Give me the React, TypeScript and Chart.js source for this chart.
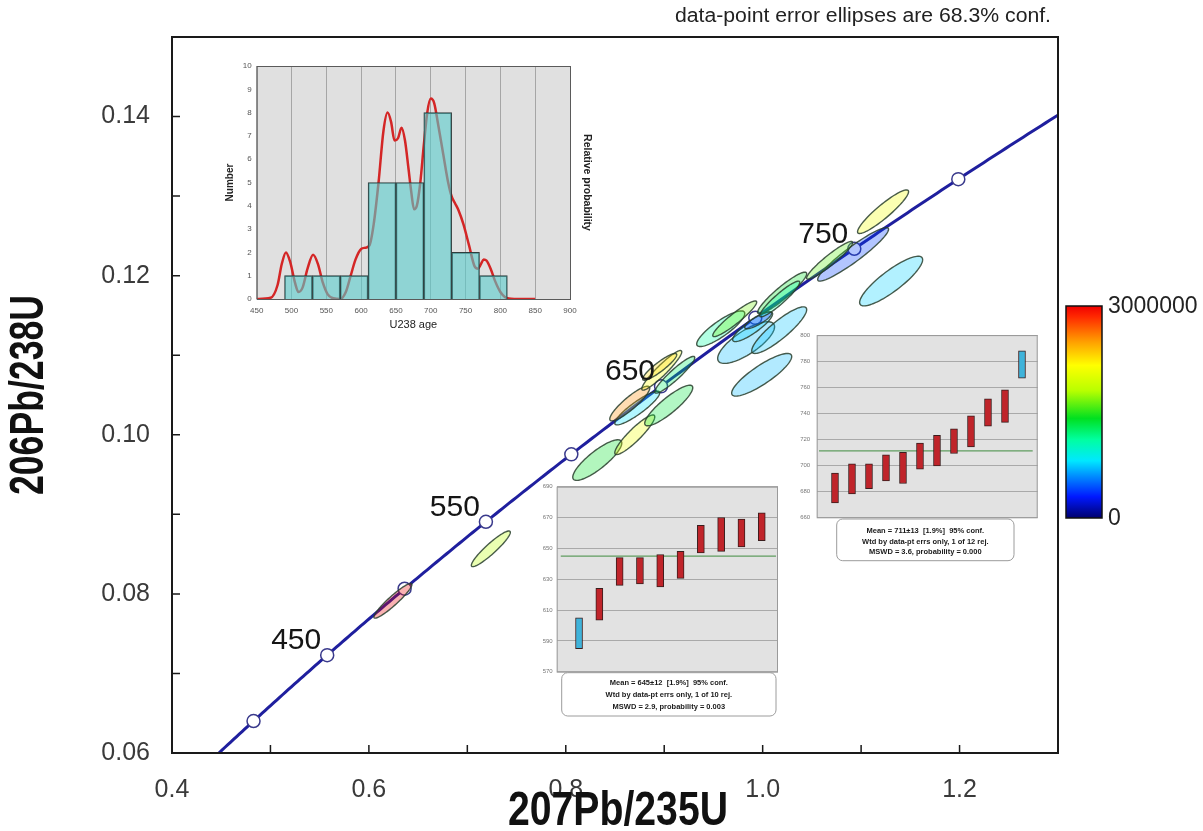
import React, { useEffect, useRef } from "react";
import { Chart, registerables } from "chart.js";

Chart.register(...registerables);

const FONT = '"Liberation Sans", Arial, Helvetica, sans-serif';
Chart.defaults.font.family = FONT;

// ---------------- Main concordia diagram ----------------
const LAMBDA_235 = 9.8485e-10; // 1/yr
const LAMBDA_238 = 1.55125e-10; // 1/yr
const CURVE_AGE_START_MA = 360;
const CURVE_AGE_END_MA = 860;
const MARKER_AGES_MA = [400, 450, 500, 550, 600, 650, 700, 750, 800];
const LABELED_AGES_MA = [450, 550, 650, 750];

const MAIN_X_TICKS = [0.4, 0.5, 0.6, 0.7, 0.8, 0.9, 1.0, 1.1, 1.2, 1.3];
const MAIN_X_LABELED = [0.4, 0.6, 0.8, 1.0, 1.2];
const MAIN_Y_TICKS = [0.06, 0.07, 0.08, 0.09, 0.1, 0.11, 0.12, 0.13, 0.14, 0.15];
const MAIN_Y_LABELED = [0.06, 0.08, 0.1, 0.12, 0.14];

// error ellipses (207Pb/235U, 206Pb/238U, 1-sigma x, 1-sigma y, rho, U colour value)
const ELL_X = [0.6244, 0.7239, 0.832, 0.8701, 0.9046, 0.8726, 0.865, 0.8975, 0.8954, 0.9107, 0.9574, 0.9832, 0.999, 1.0168, 0.9716, 0.9898, 0.9954, 1.0198, 1.0173, 1.1305, 1.0919, 1.068, 1.1223];
const ELL_Y = [0.07913, 0.08567, 0.09682, 0.1, 0.10368, 0.10336, 0.10393, 0.1081, 0.10854, 0.10754, 0.11333, 0.11159, 0.10754, 0.11315, 0.11458, 0.11358, 0.11439, 0.11782, 0.11707, 0.11932, 0.12268, 0.12193, 0.12804];
const ELL_SX = [0.0193, 0.0198, 0.0249, 0.0203, 0.0244, 0.0228, 0.0203, 0.0203, 0.0173, 0.0203, 0.0244, 0.0289, 0.0305, 0.0279, 0.0223, 0.0203, 0.0137, 0.0249, 0.0203, 0.032, 0.036, 0.0234, 0.0259];
const ELL_SY = [0.00218, 0.00224, 0.00255, 0.00249, 0.00255, 0.00212, 0.00218, 0.00249, 0.00168, 0.00231, 0.00224, 0.00262, 0.00268, 0.00293, 0.00224, 0.00187, 0.00106, 0.00262, 0.00224, 0.00312, 0.00336, 0.00237, 0.00274];
const ELL_RHO = [0.937, 0.926, 0.84, 0.907, 0.877, 0.897, 0.89, 0.935, 0.905, 0.93, 0.854, 0.76, 0.857, 0.88, 0.933, 0.866, 0.83, 0.926, 0.93, 0.86, 0.937, 0.94, 0.92];
const ELL_U = [3000000, 1800000, 1400000, 2100000, 1350000, 800000, 2550000, 2150000, 2300000, 1250000, 1100000, 700000, 700000, 720000, 1650000, 750000, 350000, 1400000, 1100000, 750000, 400000, 1600000, 2100000];

const CBAR_MIN = 0;
const CBAR_MAX = 3000000;
const CMAP_POS = [0, 0.1, 0.2, 0.27, 0.37, 0.47, 0.6, 0.72, 0.83, 0.95, 1];
const CMAP_COL = ["#00006e", "#0018ff", "#0090ff", "#00e8ff", "#00ffa0", "#00e020", "#b8ff00", "#ffff00", "#ffa000", "#ff2800", "#f00000"];

// ---------------- Histogram inset ----------------
const HIST_BIN_CENTERS = [510, 550, 590, 630, 670, 710, 750, 790];
const HIST_COUNTS = [1, 1, 1, 5, 5, 8, 2, 1];
const PDF_AGES = [450, 470, 480, 486, 492, 498, 505, 510, 516, 523, 531, 538, 545, 552, 560, 570, 578, 585, 592, 600, 606, 612, 618, 625, 632, 638, 643, 648, 653, 658, 663, 668, 672, 676, 680, 685, 690, 695, 700, 705, 710, 718, 725, 730, 735, 740, 747, 755, 763, 768, 772, 776, 780, 786, 792, 800, 806, 812, 820, 850];
const PDF_VALUES = [0, 0.05, 0.6, 1.5, 2.0, 1.6, 0.7, 0.3, 0.5, 1.3, 1.9, 1.5, 0.7, 0.2, 0.03, 0, 0.3, 1.0, 1.7, 2.15, 2.2, 2.3, 3.2, 5.0, 7.2, 8.0, 7.6, 6.8, 6.9, 7.35, 6.8, 5.6, 4.6, 3.85, 4.0, 5.0, 6.6, 8.0, 8.6, 8.4, 7.6, 6.2, 5.0, 4.4, 4.1, 3.8, 3.2, 2.3, 1.4, 1.3, 1.5, 1.7, 1.65, 1.3, 0.8, 0.3, 0.1, 0.02, 0, 0];

// ---------------- Weighted mean insets ----------------
const WM1_LOW = [585, 603.5, 626, 627, 625, 630.5, 647, 648, 651, 655];
const WM1_HIGH = [605, 624, 644, 644, 646, 648, 665, 670, 669, 673];
const WM1_REJECTED = [true, false, false, false, false, false, false, false, false, false];
const WM1_MEAN = 645;
const WM1_TEXT = ["Mean = 645±12  [1.9%]  95% conf.", "Wtd by data-pt errs only, 1 of 10 rej.", "MSWD = 2.9, probability = 0.003"];

const WM2_LOW = [671, 678, 682, 688, 686, 697, 699.5, 709, 714, 730, 733, 767];
const WM2_HIGH = [694, 701, 701, 708, 710, 717, 723, 728, 738, 751, 758, 788];
const WM2_REJECTED = [false, false, false, false, false, false, false, false, false, false, false, true];
const WM2_MEAN = 711;
const WM2_TEXT = ["Mean = 711±13  [1.9%]  95% conf.", "Wtd by data-pt errs only, 1 of 12 rej.", "MSWD = 3.6, probability = 0.000"];

// ---------------- helpers ----------------
function r235(ageMa: number) {
  return Math.exp(LAMBDA_235 * ageMa * 1e6) - 1;
}
function r238(ageMa: number) {
  return Math.exp(LAMBDA_238 * ageMa * 1e6) - 1;
}
function hexToRgb(h: string): number[] {
  return [parseInt(h.slice(1, 3), 16), parseInt(h.slice(3, 5), 16), parseInt(h.slice(5, 7), 16)];
}
function cmap(v: number): number[] {
  const t = Math.max(0, Math.min(1, v));
  for (let i = 1; i < CMAP_POS.length; i++) {
    if (t <= CMAP_POS[i]) {
      const f = (t - CMAP_POS[i - 1]) / (CMAP_POS[i] - CMAP_POS[i - 1]);
      const a = hexToRgb(CMAP_COL[i - 1]);
      const b = hexToRgb(CMAP_COL[i]);
      return a.map((c, k) => Math.round(c + (b[k] - c) * f));
    }
  }
  return hexToRgb(CMAP_COL[CMAP_COL.length - 1]);
}
function near(list: number[], v: number) {
  return list.some((l) => Math.abs(l - v) < 1e-9);
}
function fittedText(ctx: CanvasRenderingContext2D, text: string, x: number, y: number, font: string, width: number, align: CanvasTextAlign, rot = 0, baseline: CanvasTextBaseline = "alphabetic", color = "#111") {
  ctx.save();
  ctx.font = font;
  const w = ctx.measureText(text).width;
  ctx.translate(x, y);
  ctx.rotate(rot);
  ctx.scale(width / w, 1);
  ctx.textAlign = align;
  ctx.textBaseline = baseline;
  ctx.fillStyle = color;
  ctx.fillText(text, 0, 0);
  ctx.restore();
}

// ---------------- main chart ----------------
function buildMain(canvas: HTMLCanvasElement) {
  const curve: { x: number; y: number }[] = [];
  for (let t = CURVE_AGE_START_MA; t <= CURVE_AGE_END_MA; t += 2) curve.push({ x: r235(t), y: r238(t) });
  const markers = MARKER_AGES_MA.map((t) => ({ x: r235(t), y: r238(t) }));

  const plugin = {
    id: "mainDecor",
    afterDatasetsDraw(chart: any) {
      const { ctx, chartArea: a } = chart;
      const xs = chart.scales.x;
      const ys = chart.scales.y;
      ctx.save();
      ctx.beginPath();
      ctx.rect(a.left, a.top, a.right - a.left, a.bottom - a.top);
      ctx.clip();
      for (let i = 0; i < ELL_X.length; i++) {
        const rho = ELL_RHO[i];
        const q = Math.sqrt(1 - rho * rho);
        ctx.beginPath();
        for (let k = 0; k <= 90; k++) {
          const th = (k / 90) * Math.PI * 2;
          const vx = ELL_X[i] + ELL_SX[i] * Math.cos(th);
          const vy = ELL_Y[i] + ELL_SY[i] * (rho * Math.cos(th) + q * Math.sin(th));
          const px = xs.getPixelForValue(vx);
          const py = ys.getPixelForValue(vy);
          if (k === 0) ctx.moveTo(px, py);
          else ctx.lineTo(px, py);
        }
        ctx.closePath();
        const c = cmap((ELL_U[i] - CBAR_MIN) / (CBAR_MAX - CBAR_MIN));
        ctx.fillStyle = `rgba(${c[0]},${c[1]},${c[2]},0.3)`;
        ctx.fill();
        ctx.strokeStyle = "rgba(40,62,45,0.85)";
        ctx.lineWidth = 1.4;
        ctx.stroke();
      }
      ctx.restore();
    },
    afterDraw(chart: any) {
      const { ctx, chartArea: a } = chart;
      const xs = chart.scales.x;
      const ys = chart.scales.y;
      ctx.save();
      // inward ticks
      ctx.strokeStyle = "#1a1a1a";
      ctx.lineWidth = 1.5;
      ctx.beginPath();
      MAIN_X_TICKS.forEach((v) => {
        const px = xs.getPixelForValue(v);
        if (px <= a.left + 2 || px >= a.right - 2) return;
        ctx.moveTo(px, a.bottom);
        ctx.lineTo(px, a.bottom - 8);
      });
      MAIN_Y_TICKS.forEach((v) => {
        const py = ys.getPixelForValue(v);
        if (py <= a.top + 2 || py >= a.bottom - 2) return;
        ctx.moveTo(a.left, py);
        ctx.lineTo(a.left + 8, py);
      });
      ctx.stroke();
      // frame
      ctx.lineWidth = 2;
      ctx.strokeRect(a.left, a.top, a.right - a.left, a.bottom - a.top);
      // age labels
      ctx.font = `30px ${FONT}`;
      ctx.fillStyle = "#151515";
      ctx.textAlign = "right";
      ctx.textBaseline = "alphabetic";
      LABELED_AGES_MA.forEach((t) => {
        const px = xs.getPixelForValue(r235(t));
        const py = ys.getPixelForValue(r238(t));
        ctx.fillText(String(t), px - 6, py - 6);
      });
      // axis titles
      fittedText(ctx, "206Pb/238U", 43, (a.top + a.bottom) / 2, `bold 48px ${FONT}`, 200, "center", -Math.PI / 2);
      fittedText(ctx, "207Pb/235U", 618, 825, `bold 48px ${FONT}`, 220, "center");
      // top note
      fittedText(ctx, "data-point error ellipses are 68.3% conf.", 1051, 22, `20px ${FONT}`, 376, "right", 0, "alphabetic", "#222");
      // colour bar
      const cbL = 1066, cbT = 306, cbW = 36, cbH = 212;
      const g = ctx.createLinearGradient(0, cbT + cbH, 0, cbT);
      CMAP_POS.forEach((p, i) => g.addColorStop(p, CMAP_COL[i]));
      ctx.fillStyle = g;
      ctx.fillRect(cbL, cbT, cbW, cbH);
      ctx.strokeStyle = "#111";
      ctx.lineWidth = 1.5;
      ctx.strokeRect(cbL, cbT, cbW, cbH);
      ctx.font = `23px ${FONT}`;
      ctx.fillStyle = "#222";
      ctx.textAlign = "left";
      ctx.textBaseline = "middle";
      ctx.fillText(String(CBAR_MAX), cbL + cbW + 6, cbT + 1);
      ctx.fillText(String(CBAR_MIN), cbL + cbW + 6, cbT + cbH + 1);
      ctx.restore();
    },
  };

  return new Chart(canvas, {
    type: "scatter",
    data: {
      datasets: [
        {
          data: curve,
          showLine: true,
          borderColor: "#1f1f9e",
          borderWidth: 3,
          pointRadius: 0,
          order: 1,
        } as any,
        {
          data: markers,
          showLine: false,
          pointRadius: 6.5,
          pointBackgroundColor: "#ffffff",
          pointBorderColor: "#3a3a8c",
          pointBorderWidth: 1.5,
          order: 0,
        } as any,
      ],
    },
    options: {
      responsive: false,
      devicePixelRatio: 1,
      animation: false,
      layout: { padding: { left: 0, top: 31, right: 145, bottom: 0 } },
      plugins: { legend: { display: false }, tooltip: { enabled: false } },
      scales: {
        x: {
          type: "linear",
          min: 0.4,
          max: 1.3,
          afterBuildTicks: (s: any) => {
            s.ticks = MAIN_X_TICKS.map((v) => ({ value: v }));
          },
          afterFit: (s: any) => {
            s.height = 78;
          },
          ticks: {
            autoSkip: false,
            maxRotation: 0,
            padding: 22,
            color: "#3a3a3a",
            font: { size: 25 },
            callback: (v: any) => (near(MAIN_X_LABELED, Number(v)) ? Number(v).toFixed(1) : ""),
          },
          grid: { display: false, drawTicks: false },
          border: { display: false },
        },
        y: {
          type: "linear",
          min: 0.06,
          max: 0.15,
          afterBuildTicks: (s: any) => {
            s.ticks = MAIN_Y_TICKS.map((v) => ({ value: v }));
          },
          afterFit: (s: any) => {
            s.width = 172;
          },
          ticks: {
            autoSkip: false,
            padding: 22,
            color: "#3a3a3a",
            font: { size: 25 },
            callback: (v: any) => (near(MAIN_Y_LABELED, Number(v)) ? Number(v).toFixed(2) : ""),
          },
          grid: { display: false, drawTicks: false },
          border: { display: false },
        },
      },
    } as any,
    plugins: [plugin],
  });
}

// ---------------- histogram inset ----------------
function buildHist(canvas: HTMLCanvasElement) {
  const plugin = {
    id: "histDecor",
    beforeDraw(chart: any) {
      const { ctx, chartArea: a } = chart;
      ctx.save();
      ctx.fillStyle = "#e0e0e0";
      ctx.fillRect(a.left, a.top, a.right - a.left, a.bottom - a.top);
      ctx.restore();
    },
    afterDraw(chart: any) {
      const { ctx, chartArea: a } = chart;
      ctx.save();
      ctx.strokeStyle = "#5a5a5a";
      ctx.lineWidth = 1;
      ctx.strokeRect(a.left + 0.5, a.top + 0.5, a.right - a.left, a.bottom - a.top);
      ctx.fillStyle = "#222";
      ctx.textAlign = "center";
      ctx.textBaseline = "middle";
      ctx.font = `11px ${FONT}`;
      ctx.fillText("U238 age", (a.left + a.right) / 2, a.bottom + 26);
      ctx.save();
      ctx.translate(25, (a.top + a.bottom) / 2);
      ctx.rotate(-Math.PI / 2);
      ctx.font = `bold 10px ${FONT}`;
      ctx.fillText("Number", 0, 0);
      ctx.restore();
      ctx.save();
      ctx.translate(a.right + 17, (a.top + a.bottom) / 2);
      ctx.rotate(Math.PI / 2);
      ctx.font = `bold 10.5px ${FONT}`;
      ctx.fillText("Relative probability", 0, 0);
      ctx.restore();
      ctx.restore();
    },
  };
  return new Chart(canvas, {
    type: "bar",
    data: {
      datasets: [
        {
          type: "bar",
          data: HIST_BIN_CENTERS.map((c, i) => ({ x: c, y: HIST_COUNTS[i] })),
          backgroundColor: "rgba(89,204,204,0.6)",
          borderColor: "#2f3d3d",
          borderWidth: 1,
          barPercentage: 1,
          categoryPercentage: 1,
          order: 0,
        } as any,
        {
          type: "line",
          data: PDF_AGES.map((t, i) => ({ x: t, y: PDF_VALUES[i] })),
          borderColor: "#d42626",
          borderWidth: 2.5,
          pointRadius: 0,
          tension: 0.4,
          cubicInterpolationMode: "monotone",
          order: 1,
        } as any,
      ],
    },
    options: {
      responsive: false,
      devicePixelRatio: 1,
      animation: false,
      layout: { padding: { left: 0, top: 11, right: 30, bottom: 0 } },
      plugins: { legend: { display: false }, tooltip: { enabled: false } },
      scales: {
        x: {
          type: "linear",
          min: 450,
          max: 900,
          offset: false,
          afterFit: (s: any) => {
            s.height = 36;
          },
          ticks: { stepSize: 50, padding: 7, color: "#555", font: { size: 8 }, maxRotation: 0, autoSkip: false },
          grid: { display: true, color: "#a6a6a6", lineWidth: 1, drawTicks: false, offset: false },
          border: { display: false },
        },
        y: {
          type: "linear",
          min: 0,
          max: 10,
          afterFit: (s: any) => {
            s.width = 51.7;
          },
          ticks: { stepSize: 1, padding: 5, color: "#555", font: { size: 8 } },
          grid: { display: false, drawTicks: false },
          border: { display: false },
        },
      },
    } as any,
    plugins: [plugin],
  });
}

// ---------------- weighted mean inset ----------------
interface WmSpec {
  low: number[];
  high: number[];
  rejected: boolean[];
  mean: number;
  text: string[];
  yMin: number;
  yMax: number;
  xMin: number;
  xMax: number;
  meanFrom: number;
  meanTo: number;
  axisWidth: number;
  labelPad: number;
  pad: { top: number; right: number; bottom: number };
  box: { dl: number; dr: number; dt: number; h: number; lines: number[] };
}

function buildWm(canvas: HTMLCanvasElement, s: WmSpec) {
  const plugin = {
    id: "wmDecor",
    beforeDraw(chart: any) {
      const { ctx, chartArea: a } = chart;
      ctx.save();
      ctx.fillStyle = "#e2e2e2";
      ctx.fillRect(a.left, a.top, a.right - a.left, a.bottom - a.top);
      ctx.restore();
    },
    afterDraw(chart: any) {
      const { ctx, chartArea: a } = chart;
      ctx.save();
      ctx.strokeStyle = "#9a9a9a";
      ctx.lineWidth = 1;
      ctx.strokeRect(a.left + 0.5, a.top + 0.5, a.right - a.left - 1, a.bottom - a.top);
      const bx = a.left + s.box.dl;
      const bw = a.right - s.box.dr - bx;
      const by = a.bottom + s.box.dt;
      ctx.beginPath();
      (ctx as any).roundRect(bx, by, bw, s.box.h, 6);
      ctx.fillStyle = "#ffffff";
      ctx.fill();
      ctx.strokeStyle = "#9c9c9c";
      ctx.stroke();
      ctx.fillStyle = "#1a1a1a";
      ctx.font = `bold 7.5px ${FONT}`;
      ctx.textAlign = "center";
      ctx.textBaseline = "middle";
      s.text.forEach((t, i) => ctx.fillText(t, bx + bw / 2, by + s.box.lines[i]));
      ctx.restore();
    },
  };
  return new Chart(canvas, {
    type: "bar",
    data: {
      datasets: [
        {
          type: "bar",
          data: s.low.map((lo, i) => ({ x: i + 1, y: [lo, s.high[i]] })),
          backgroundColor: s.rejected.map((r) => (r ? "#3fb3da" : "#c0242a")),
          borderColor: "#3a1e1e",
          borderWidth: 1,
          borderSkipped: false,
          barThickness: 7,
          order: 0,
        } as any,
        {
          type: "line",
          data: [
            { x: s.meanFrom, y: s.mean },
            { x: s.meanTo, y: s.mean },
          ],
          borderColor: "#5f9c5f",
          borderWidth: 1.3,
          pointRadius: 0,
          order: 1,
        } as any,
      ],
    },
    options: {
      responsive: false,
      devicePixelRatio: 1,
      animation: false,
      layout: { padding: { left: 0, top: s.pad.top, right: s.pad.right, bottom: s.pad.bottom } },
      plugins: { legend: { display: false }, tooltip: { enabled: false } },
      scales: {
        x: { type: "linear", min: s.xMin, max: s.xMax, offset: false, display: false, grid: { offset: false } },
        y: {
          type: "linear",
          min: s.yMin,
          max: s.yMax,
          afterFit: (sc: any) => {
            sc.width = s.axisWidth;
          },
          ticks: { stepSize: 20, padding: s.labelPad, color: "#777", font: { size: 6 } },
          grid: { color: "#a9a9a9", lineWidth: 1, drawTicks: false },
          border: { display: false },
        },
      },
    } as any,
    plugins: [plugin],
  });
}

export default function App() {
  const mainRef = useRef<HTMLCanvasElement | null>(null);
  const histRef = useRef<HTMLCanvasElement | null>(null);
  const wm1Ref = useRef<HTMLCanvasElement | null>(null);
  const wm2Ref = useRef<HTMLCanvasElement | null>(null);

  useEffect(() => {
    const charts: Chart[] = [];
    charts.push(buildMain(mainRef.current!));
    charts.push(buildHist(histRef.current!));
    charts.push(
      buildWm(wm1Ref.current!, {
        low: WM1_LOW,
        high: WM1_HIGH,
        rejected: WM1_REJECTED,
        mean: WM1_MEAN,
        text: WM1_TEXT,
        yMin: 570,
        yMax: 690,
        xMin: -0.1,
        xMax: 10.8,
        meanFrom: 0.1,
        meanTo: 10.7,
        axisWidth: 26.7,
        labelPad: 4,
        pad: { top: 11.7, right: 12, bottom: 53.3 },
        box: { dl: 5, dr: 2, dt: 1, h: 43.3, lines: [10, 22.5, 34] },
      })
    );
    charts.push(
      buildWm(wm2Ref.current!, {
        low: WM2_LOW,
        high: WM2_HIGH,
        rejected: WM2_REJECTED,
        mean: WM2_MEAN,
        text: WM2_TEXT,
        yMin: 660,
        yMax: 800,
        xMin: -0.076,
        xMax: 12.924,
        meanFrom: 0.06,
        meanTo: 12.63,
        axisWidth: 16.7,
        labelPad: 6.5,
        pad: { top: 9, right: 12.3, bottom: 52.7 },
        box: { dl: 20, dr: 23.7, dt: 1.7, h: 41.7, lines: [12, 22.7, 32.7] },
      })
    );
    return () => charts.forEach((c) => c.destroy());
  }, []);

  const abs = (l: number, t: number, w: number, h: number): React.CSSProperties => ({
    position: "absolute",
    left: l,
    top: t,
    width: w,
    height: h,
  });

  return (
    <div style={{ position: "fixed", left: 0, top: 0, width: 1203, height: 831, background: "#ffffff", overflow: "hidden" }}>
      <canvas ref={mainRef} width={1203} height={831} style={abs(0, 0, 1203, 831)} />
      <canvas ref={histRef} width={395} height={280} style={abs(205, 55, 395, 280)} />
      <canvas ref={wm1Ref} width={260} height={250} style={abs(530, 475, 260, 250)} />
      <canvas ref={wm2Ref} width={250} height={245} style={abs(800, 325, 250, 245)} />
    </div>
  );
}
